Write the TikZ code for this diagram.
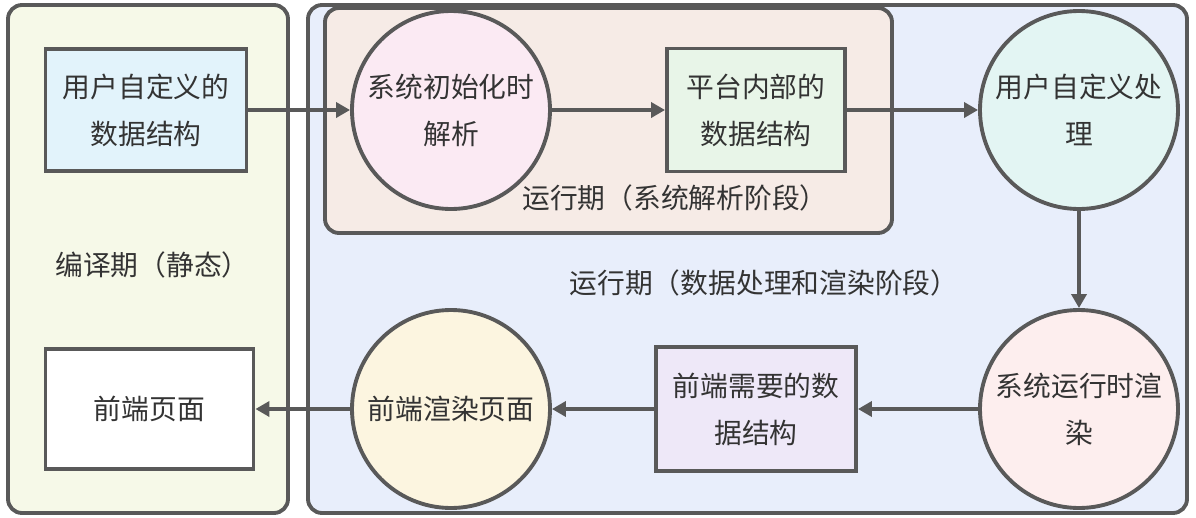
\documentclass[tikz,border=0pt]{standalone}
\usepackage{fontspec}
\setmainfont{Noto Sans CJK SC}
\usetikzlibrary{arrows.meta}
\definecolor{line}{HTML}{595959}
\definecolor{txt}{HTML}{333333}
\definecolor{staticbg}{HTML}{F6F9E8}
\definecolor{runbg}{HTML}{E8EEFB}
\definecolor{parsebg}{HTML}{F6EBE6}
\definecolor{fillA}{HTML}{E2F3FB}
\definecolor{fillB}{HTML}{FBEAF3}
\definecolor{fillG}{HTML}{E8F5E8}
\definecolor{fillC}{HTML}{E3F5F3}
\definecolor{fillD}{HTML}{FDEEEE}
\definecolor{fillF}{HTML}{EEE8F8}
\definecolor{fillE}{HTML}{FCF5E0}
\begin{document}
\begin{tikzpicture}[node distance={61mm},
  main/.style = {draw=line, line width=2.2pt, text=txt, align=center, font=\fontsize{15.8}{26.7}\selectfont},
  box/.style = {main, rectangle, inner sep=0pt},
  ring/.style = {main, circle, inner sep=0pt, minimum size=3.96cm},
  panel/.style = {draw=line, line width=2.2pt, rounded corners=0.28cm},
  lbl/.style = {text=txt, font=\fontsize{15.8}{20}\selectfont},
  flow/.style = {draw=line, line width=2pt, -{Triangle[length=0.28cm,width=0.3cm]}}]
\useasboundingbox (0,0) rectangle (23.92,-10.36);

% panels
\draw[panel, fill=staticbg] (0.16,-0.1) rectangle (5.76,-10.26);
\draw[panel, fill=runbg] (6.16,-0.1) rectangle (23.74,-10.26);
\draw[panel, fill=parsebg] (6.5,-0.16) rectangle (17.84,-4.66);

\node[lbl] (9) at (3.05,-5.3) {编译期（静态）};
\node[lbl] (10) at (13.5,-3.96) {运行期（系统解析阶段）};
\node[lbl] (11) at (15.28,-5.66) {运行期（数据处理和渲染阶段）};

\node[box, fill=fillA, minimum width=4.02cm, minimum height=2.44cm] (1) at (2.92,-2.2) {用户自定义的\\数据结构};
\node[ring, fill=fillB] (2) [right of=1] {系统初始化时\\解析};
\node[box, fill=fillG, minimum width=3.56cm, minimum height=2.46cm] (3) [right of=2] {平台内部的\\数据结构};
\node[ring, fill=fillC] (4) [right of=3, xshift=3.6mm] {用户自定义处\\理};

\node[ring, fill=fillD] (5) [below of=4, node distance={59.8mm}] {系统运行时渲\\染};
\node[box, fill=fillF, minimum width=4.0cm, minimum height=2.48cm] (6) [below of=3, node distance={59.8mm}] {前端需要的数\\据结构};
\node[ring, fill=fillE] (7) [below of=2, node distance={59.8mm}] {前端渲染页面};
\node[box, fill=white, minimum width=4.16cm, minimum height=2.4cm] (8) [below of=1, node distance={59.8mm}, xshift=0.7mm] {前端页面};

\draw[flow] (1) -- (2);
\draw[flow] (2) -- (3);
\draw[flow] (3) -- (4);
\draw[flow] (4) -- (5);
\draw[flow] (5) -- (6);
\draw[flow] (6) -- (7);
\draw[flow] (7) -- (8);

\end{tikzpicture}
\end{document}
